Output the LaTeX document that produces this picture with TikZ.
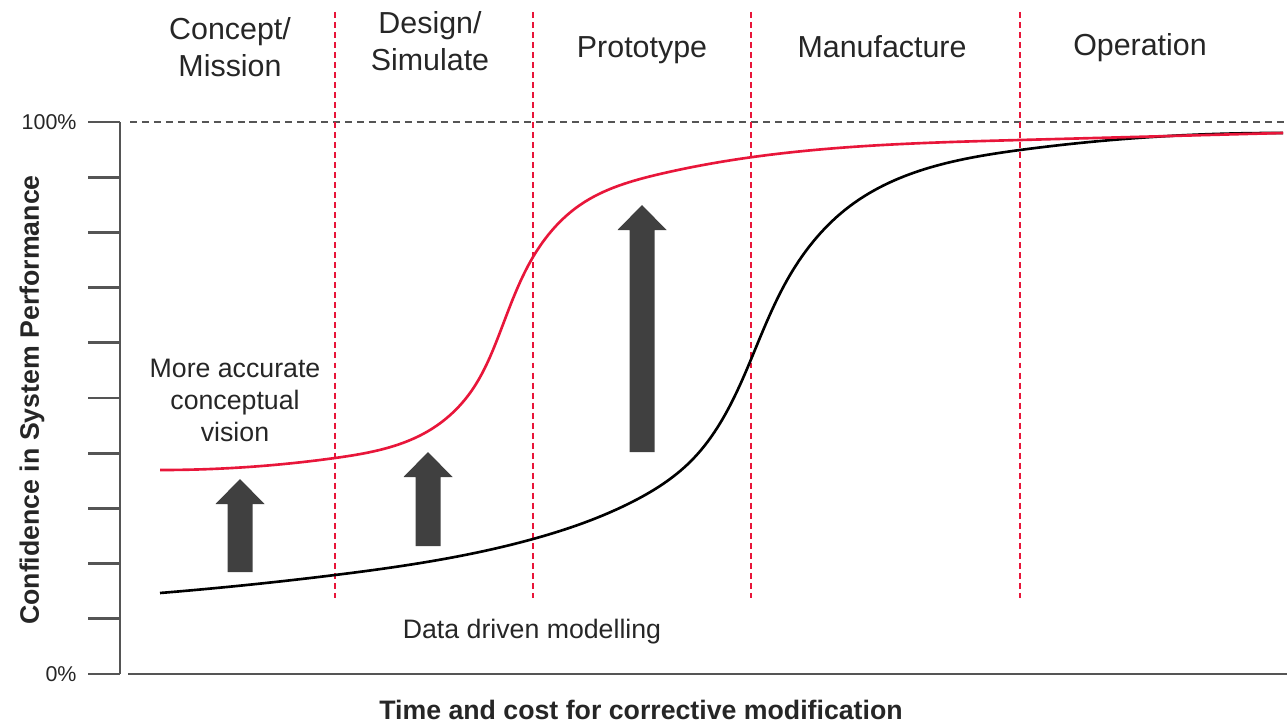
\documentclass[tikz,border=0pt]{standalone}
\usepackage{fontspec}
\setmainfont{Liberation Sans}
\usetikzlibrary{positioning,hobby}
\definecolor{phasered}{RGB}{232,22,58}
\definecolor{axisgray}{RGB}{85,85,85}
\definecolor{blockgray}{RGB}{64,64,64}
\definecolor{textgray}{RGB}{38,38,38}

\begin{document}
\begin{tikzpicture}[x=0.02cm,y=-0.02cm,node distance=4pt,
    phase/.style={font=\fontsize{17.3}{21}\selectfont,text=textgray,align=center},
    note/.style={font=\fontsize{15.2}{18.2}\selectfont,text=textgray,align=center},
    title/.style={font=\fontsize{15.2}{18}\selectfont\bfseries,text=textgray},
    pct/.style={font=\fontsize{12.2}{14}\selectfont,text=textgray},
    axis/.style={draw=axisgray,line width=1.6pt},
    phaseline/.style={draw=phasered,line width=0.9pt,dash pattern=on 3.4pt off 2.3pt},
    curve/.style={line width=1.5pt,use Hobby shortcut}]
  \useasboundingbox (0,0) rectangle (1287,723);

  % axes and ticks
  \coordinate (top) at (120,122);
  \coordinate (origin) at (120,674);
  \coordinate (xend) at (1287,674);
  \draw[axis] (top) -- (origin);
  \draw[axis] (128,674) -- (xend);
  \foreach \i in {0,...,10}
    \draw[axis] (88,{122+\i*55.2}) -- (120,{122+\i*55.2});
  \coordinate (t100) at (88,122);
  \coordinate (t0) at (88,674);
  \node[pct, left=3pt of t100] (full) {100\%};
  \node[pct, left=3pt of t0] (zero) {0\%};
  \draw[axisgray,line width=1.1pt,dash pattern=on 4pt off 2.8pt] (130,122) -- (1287,122);

  % phase boundaries
  \foreach \x in {335,533,751,1020}
    \draw[phaseline] (\x,12) -- (\x,598);

  % phase names
  \node[phase] (concept) at (230,47) {Concept/\\Mission};
  \node[phase] (design) at (430,41) {Design/\\Simulate};
  \node[phase] (proto) at (642,50) {Prototype};
  \node[phase] (manuf) at (882,47) {Manufacture};
  \node[phase] (oper) at (1140,48) {Operation};

  % confidence curves
  \draw[curve,draw=black] (160,593) .. (335,575) .. (533,539) .. (630,503) .. (690,462)
    .. (752,357) .. (790,275) .. (850,206) .. (1020,150) .. (1283,133);
  \draw[curve,draw=phasered] (160,470) .. (335,458) .. (430,430) .. (470,393)
    .. (497,340) .. (533,257) .. (580,205) .. (660,174) .. (1020,140) .. (1283,133);

  % improvement arrows
  \foreach \xc/\yb/\yt in {240/572/479, 428/546/452, 642/452/205}
    \fill[blockgray] ({\xc-12.5},\yb) -- ({\xc+12.5},\yb) -- ({\xc+12.5},{\yt+25})
      -- ({\xc+24.5},{\yt+25}) -- (\xc,\yt) -- ({\xc-24.5},{\yt+25})
      -- ({\xc-12.5},{\yt+25}) -- cycle;

  % annotations
  \node[note] (vision) at (235,400) {More accurate\\conceptual\\vision};
  \node[note] (data) at (532,632) {Data driven modelling};
  \node[title] (xtitle) at (641,710) {Time and cost for corrective modification};
  \node[title,rotate=90] (ytitle) at (32,400) {Confidence in System Performance};
\end{tikzpicture}
\end{document}
